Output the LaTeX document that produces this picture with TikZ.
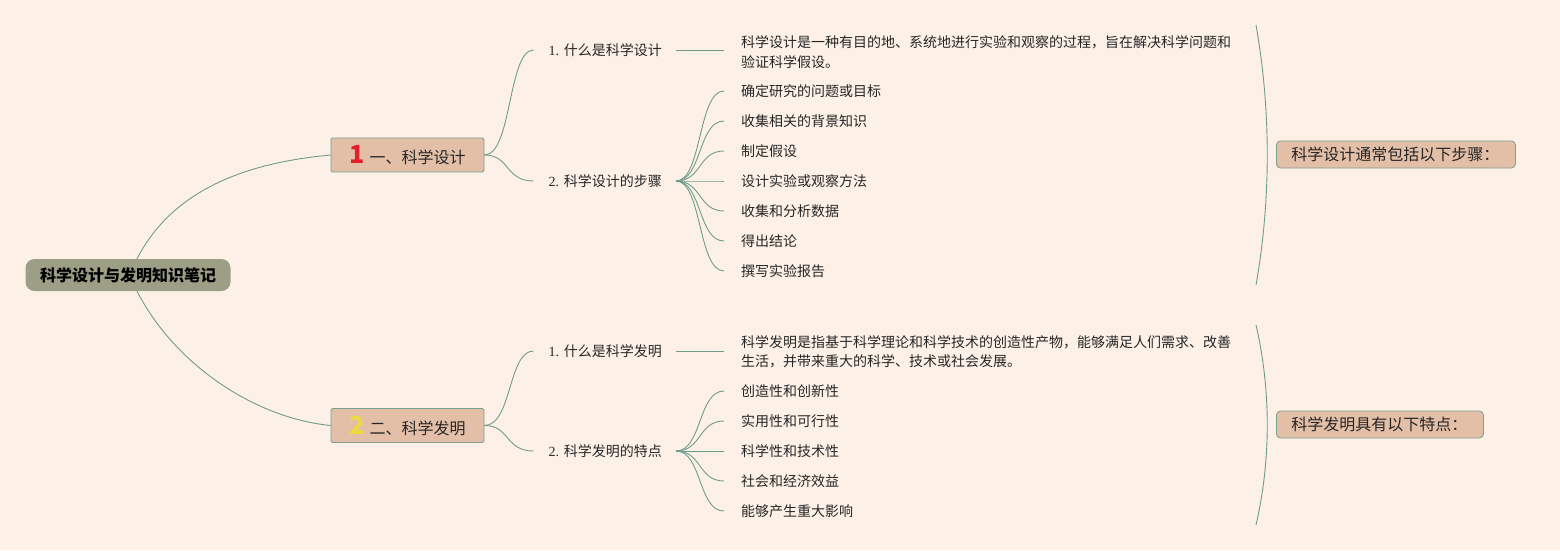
\documentclass[tikz,border=0pt]{standalone}
\usepackage{fontspec}
\setmainfont{Noto Sans CJK SC}
\newfontfamily\serifnum{Liberation Serif}
\newcommand\bignumfont{\fontsize{25}{25}\selectfont\bfseries}
\definecolor{bgc}{HTML}{FDF1E7}
\definecolor{linec}{HTML}{6F9C8A}
\definecolor{bordc}{HTML}{7C9E8E}
\definecolor{brfill}{HTML}{E3BFA8}
\definecolor{rootc}{HTML}{9C9E85}
\definecolor{txt}{HTML}{262626}
\definecolor{numred}{HTML}{E0202A}
\definecolor{numyel}{HTML}{F0D840}
\begin{document}
\begin{tikzpicture}[x=1pt,y=-1pt,
  conn/.style={draw=linec, line width=0.9pt},
  leaf/.style={anchor=west, inner sep=0pt, text=txt, font=\fontsize{14}{19.5}\selectfont},
  sub/.style={anchor=west, inner sep=0pt, text=txt, font=\fontsize{14}{16}\selectfont},
  branch/.style={draw=bordc, fill=brfill, line width=0.8pt, rounded corners=1.5pt, minimum width=153pt, minimum height=34pt, inner sep=0pt, text=txt, font=\fontsize{16}{18}\selectfont},
  rootbox/.style={fill=rootc, rounded corners=9pt, minimum width=205pt, minimum height=32pt, inner sep=0pt, text=black, font=\fontsize{16}{18}\selectfont\bfseries},
  sumbox/.style={draw=bordc, fill=brfill, line width=0.8pt, rounded corners=4pt, minimum height=27pt, inner ysep=0pt, inner xsep=15pt, align=left, anchor=west, text=txt, font=\fontsize{16}{18}\selectfont}
]
\fill[bgc] (0,0) rectangle (1560,550);
\useasboundingbox (0,0) rectangle (1560,550);

% root and branches
\node[rootbox] (root) at (128,275) {科学设计与发明知识笔记};
\node[branch] (b1) at (407.5,155) {{\color{numred}\bignumfont 1}\hspace{5pt}一、科学设计};
\node[branch] (b2) at (407.5,425.5) {{\color{numyel}\bignumfont 2}\hspace{5pt}二、科学发明};

\draw[conn] ([xshift=9pt]root.north) .. controls (175,185) and (255,162) .. (b1.west);
\draw[conn] ([xshift=9pt]root.south) .. controls (175,365) and (255,418) .. (b2.west);

% sub-branches part 1
\node[sub] (s1) at (548.5,50) {{\serifnum 1. }什么是科学设计};
\node[sub] (s2) at (548.5,181) {{\serifnum 2. }科学设计的步骤};
\draw[conn] (b1.east) .. controls (512,155) and (508,50) .. ([xshift=-15pt]s1.west);
\draw[conn] (b1.east) .. controls (510,155) and (505,181) .. ([xshift=-15pt]s2.west);

\coordinate (h1) at (676,50);
\coordinate (h2) at (676,181);

\node[leaf, align=left] (p1) at (741,52) {科学设计是一种有目的地、系统地进行实验和观察的过程，旨在解决科学问题和\\验证科学假设。};
\draw[conn] (h1) -- (724,50);

\node[leaf] (a1) at (741,91) {确定研究的问题或目标};
\node[leaf] (a2) at (741,121) {收集相关的背景知识};
\node[leaf] (a3) at (741,151) {制定假设};
\node[leaf] (a4) at (741,181) {设计实验或观察方法};
\node[leaf] (a5) at (741,211) {收集和分析数据};
\node[leaf] (a6) at (741,241) {得出结论};
\node[leaf] (a7) at (741,271) {撰写实验报告};
\foreach \n in {a1,a2,a3,a4,a5,a6,a7}{
  \draw[conn] (h2) .. controls (702,181) and (698,0|-\n.west) .. ([xshift=-17pt]\n.west);
}

\coordinate (bt1) at (1256,25);
\coordinate (bb1) at (1256,285);
\draw[conn] (bt1) .. controls (1271,110) and (1271,200) .. (bb1);
\node[sumbox, text width=209pt] (m1) at (1276,154.5) {科学设计通常包括以下步骤：};

% sub-branches part 2
\node[sub] (s3) at (548.5,351) {{\serifnum 1. }什么是科学发明};
\node[sub] (s4) at (548.5,451) {{\serifnum 2. }科学发明的特点};
\draw[conn] (b2.east) .. controls (512,425.5) and (508,351) .. ([xshift=-15pt]s3.west);
\draw[conn] (b2.east) .. controls (510,425.5) and (505,451) .. ([xshift=-15pt]s4.west);

\coordinate (h3) at (676,351);
\coordinate (h4) at (676,451);

\node[leaf, align=left] (p2) at (741,352) {科学发明是指基于科学理论和科学技术的创造性产物，能够满足人们需求、改善\\生活，并带来重大的科学、技术或社会发展。};
\draw[conn] (h3) -- (724,351);

\node[leaf] (c1) at (741,391) {创造性和创新性};
\node[leaf] (c2) at (741,421) {实用性和可行性};
\node[leaf] (c3) at (741,451) {科学性和技术性};
\node[leaf] (c4) at (741,481) {社会和经济效益};
\node[leaf] (c5) at (741,511) {能够产生重大影响};
\foreach \n in {c1,c2,c3,c4,c5}{
  \draw[conn] (h4) .. controls (702,451) and (698,0|-\n.west) .. ([xshift=-17pt]\n.west);
}

\coordinate (bt2) at (1256,325);
\coordinate (bb2) at (1256,525);
\draw[conn] (bt2) .. controls (1271,390) and (1271,460) .. (bb2);
\node[sumbox, text width=177pt] (m2) at (1276,424.5) {科学发明具有以下特点：};
\end{tikzpicture}
\end{document}
